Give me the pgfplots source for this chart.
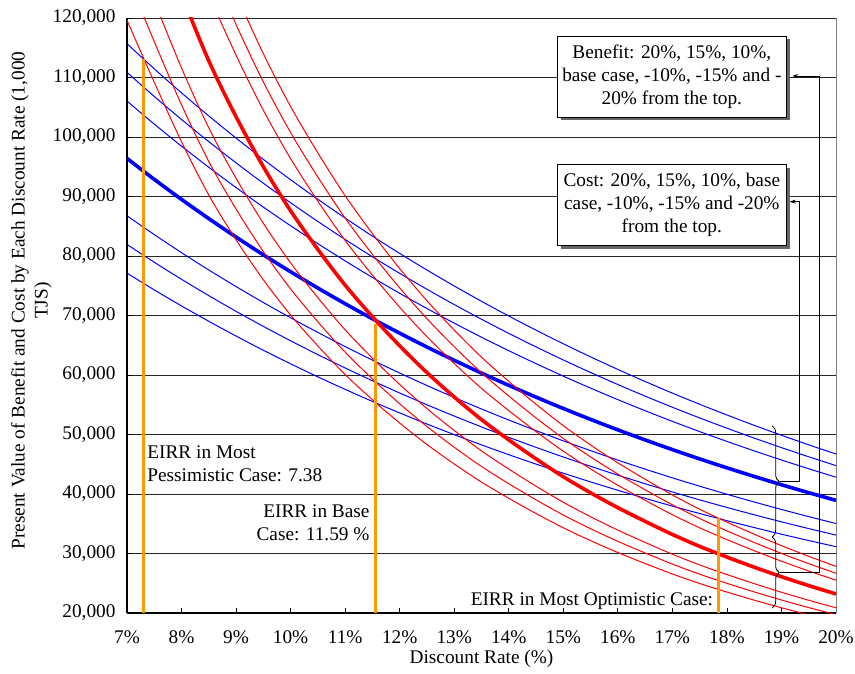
\documentclass[border=0pt]{standalone}
\usepackage{fontspec}
\setmainfont{Liberation Serif}
\usepackage{pgfplots}
\usepackage{pgfplotstable}
\pgfplotsset{compat=1.18}
\usetikzlibrary{decorations.pathreplacing,arrows.meta,shadows}
\newcommand\fs{\fontsize{19.3}{23}\selectfont}
\definecolor{eorange}{RGB}{255,153,0}

\pgfplotstableread{
x    b120   b115   b110   b100   b90    b85    b80
7    179400 171925 164450 149500 134550 127075 119600
7.5  163800 156975 150150 136500 122850 116025 109200
8    148800 142600 136400 124000 111600 105400 99200
8.5  135360 129720 124080 112800 101520 95880  90240
9    124080 118910 113740 103400 93060  87890  82720
9.5  114000 109250 104500 95000  85500  80750  76000
10   105120 100740 96360  87600  78840  74460  70080
10.5 97320  93265  89210  81100  72990  68935  64880
11   90120  86365  82610  75100  67590  63835  60080
11.5 83760  80270  76780  69800  62820  59330  55840
12   77880  74635  71390  64900  58410  55165  51920
12.5 72480  69460  66440  60400  54360  51340  48320
13   67560  64745  61930  56300  50670  47855  45040
13.5 63000  60375  57750  52500  47250  44625  42000
14   58920  56465  54010  49100  44190  41735  39280
14.5 55080  52785  50490  45900  41310  39015  36720
15   51480  49335  47190  42900  38610  36465  34320
15.5 48240  46230  44220  40200  36180  34170  32160
16   45240  43355  41470  37700  33930  32045  30160
16.5 42480  40710  38940  35400  31860  30090  28320
17   39840  38180  36520  33200  29880  28220  26560
17.5 37440  35880  34320  31200  28080  26520  24960
18   35280  33810  32340  29400  26460  24990  23520
18.5 33240  31855  30470  27700  24930  23545  22160
19   31320  30015  28710  26100  23490  22185  20880
19.5 29520  28290  27060  24600  22140  20910  19680
20   27840  26680  25520  23200  20880  19720  18560
}\benefit

\pgfplotstableread{
x    c120   c115   c110   c100   c90    c85    c80
7    115680 110860 106040 96400  86760  81940  77120
7.5  111456 106812 102168 92880  83592  78948  74304
8    107412 102937 98461  89510  80559  76084  71608
8.5  103536 99222  94908  86280  77652  73338  69024
9    99816  95657  91498  83180  74862  70703  66544
9.5  96240  92230  88220  80200  72180  68170  64160
10   92820  88953  85085  77350  69615  65748  61880
10.5 89532  85802  82071  74610  67149  63419  59688
11   86376  82777  79178  71980  64782  61183  57584
11.5 83340  79868  76395  69450  62505  59033  55560
12   80436  77085  73733  67030  60327  56976  53624
12.5 77640  74405  71170  64700  58230  54995  51760
13   74964  71841  68717  62470  56223  53100  49976
13.5 72384  69368  66352  60320  54288  51272  48256
14   69912  66999  64086  58260  52434  49521  46608
14.5 67536  64722  61908  56280  50652  47838  45024
15   65244  62526  59807  54370  48933  46215  43496
15.5 63048  60421  57794  52540  47286  44659  42032
16   60936  58397  55858  50780  45702  43163  40624
16.5 58908  56454  53999  49090  44181  41727  39272
17   56952  54579  52206  47460  42714  40341  37968
17.5 55080  52785  50490  45900  41310  39015  36720
18   53280  51060  48840  44400  39960  37740  35520
18.5 51540  49393  47245  42950  38655  36508  34360
19   49872  47794  45716  41560  37404  35326  33248
19.5 48264  46253  44242  40220  36198  34187  32176
20   46716  44770  42823  38930  35037  33091  31144
}\cost

\begin{document}
\begin{tikzpicture}
\begin{axis}[
  name=ax,
  scale only axis,
  width=709pt, height=595pt,
  xmin=7, xmax=20, ymin=20000, ymax=120000,
  xtick={7,8,9,10,11,12,13,14,15,16,17,18,19,20},
  xticklabels={7\%,8\%,9\%,10\%,11\%,12\%,13\%,14\%,15\%,16\%,17\%,18\%,19\%,20\%},
  ytick={20000,30000,40000,50000,60000,70000,80000,90000,100000,110000,120000},
  yticklabels={{20,000},{30,000},{40,000},{50,000},{60,000},{70,000},{80,000},{90,000},{100,000},{110,000},{120,000}},
  scaled y ticks=false,
  tick label style={font=\fs},
  xticklabel style={yshift=-14pt},
  yticklabel style={xshift=-8pt},
  label style={font=\fs},
  xlabel={Discount Rate (\%)},
  ylabel={Present Value of Benefit and Cost by Each Discount Rate (1,000\\TJS)},
  ylabel style={at={(axis description cs:-0.135,0.525)}, anchor=center, align=center},
  axis x line*=bottom, axis y line*=left,
  axis line style={black, line width=1.6pt},
  tick align=inside, major tick length=5pt,
  tick style={black, line width=0.8pt},
  ymajorgrids, grid style={black!85, line width=0.9pt},
  clip mode=individual,
]
\draw[gray, line width=0.9pt] (rel axis cs:1,0) -- (rel axis cs:1,1);

% cost curves (blue)
\addplot[blue, line width=1pt, smooth] table[x=x, y=c120] {\cost};
\addplot[blue, line width=1pt, smooth] table[x=x, y=c115] {\cost};
\addplot[blue, line width=1pt, smooth] table[x=x, y=c110] {\cost};
\addplot[blue, line width=3.6pt, smooth] table[x=x, y=c100] {\cost};
\addplot[blue, line width=1pt, smooth] table[x=x, y=c90] {\cost};
\addplot[blue, line width=1pt, smooth] table[x=x, y=c85] {\cost};
\addplot[blue, line width=1pt, smooth] table[x=x, y=c80] {\cost};

% benefit curves (red)
\addplot[red, line width=1pt, smooth] table[x=x, y=b120] {\benefit};
\addplot[red, line width=1pt, smooth] table[x=x, y=b115] {\benefit};
\addplot[red, line width=1pt, smooth] table[x=x, y=b110] {\benefit};
\addplot[red, line width=3.6pt, smooth] table[x=x, y=b100] {\benefit};
\addplot[red, line width=1pt, smooth] table[x=x, y=b90] {\benefit};
\addplot[red, line width=1pt, smooth] table[x=x, y=b85] {\benefit};
\addplot[red, line width=1pt, smooth] table[x=x, y=b80] {\benefit};

% EIRR markers
\addplot[eorange, line width=2.8pt] coordinates {(7.3,20000) (7.3,113100)};
\addplot[eorange, line width=2.8pt] coordinates {(11.55,20000) (11.55,68600)};
\addplot[eorange, line width=2.8pt] coordinates {(17.85,20000) (17.85,35900)};

\node[font=\fs, align=left, anchor=west, inner sep=0pt] at (axis cs:7.37,45100)
  {EIRR in Most\\Pessimistic Case: 7.38};
\node[font=\fs, align=right, anchor=east, inner sep=0pt] at (axis cs:11.45,35100)
  {EIRR in Base\\Case: 11.59 \%};
\node[font=\fs, anchor=east, inner sep=0pt] at (axis cs:17.75,22000)
  {EIRR in Most Optimistic Case:};

% boxes
\node[draw=black, line width=0.8pt, fill=white,
  drop shadow={shadow xshift=3.5pt, shadow yshift=-3.5pt, fill=black!60, opacity=1},
  minimum width=229pt, minimum height=81pt, inner sep=3pt,
  align=center, font=\fs] at (axis cs:16.99,110168)
  {Benefit: 20\%, 15\%, 10\%,\\base case, -10\%, -15\% and -\\20\% from the top.};
\node[draw=black, line width=0.8pt, fill=white,
  drop shadow={shadow xshift=3.5pt, shadow yshift=-3.5pt, fill=black!60, opacity=1},
  minimum width=229pt, minimum height=81pt, inner sep=3pt,
  align=center, font=\fs] at (axis cs:16.99,88655)
  {Cost: 20\%, 15\%, 10\%, base\\case, -10\%, -15\% and -20\%\\from the top.};

% braces and connectors
\draw[black, line width=0.8pt, decorate, decoration={brace, amplitude=7pt}]
  (axis cs:18.83,51430) -- (axis cs:18.83,32770);
\draw[black, line width=0.8pt, decorate, decoration={brace, amplitude=7pt}]
  (axis cs:18.83,32770) -- (axis cs:18.83,20840);
\draw[black, line width=0.8pt, -{Stealth[length=6pt, width=4pt]}]
  (axis cs:18.97,42100) -- (axis cs:19.33,42100) -- (axis cs:19.33,89130) -- (axis cs:19.15,89130);
\draw[black, line width=0.8pt, -{Stealth[length=6pt, width=4pt]}]
  (axis cs:18.97,26800) -- (axis cs:19.70,26800) -- (axis cs:19.70,110250) -- (axis cs:19.2,110250);
\end{axis}
\pgfresetboundingbox
\path ([xshift=-127pt, yshift=-60pt]ax.south west) rectangle ([xshift=19pt, yshift=18pt]ax.north east);
\end{tikzpicture}
\end{document}
